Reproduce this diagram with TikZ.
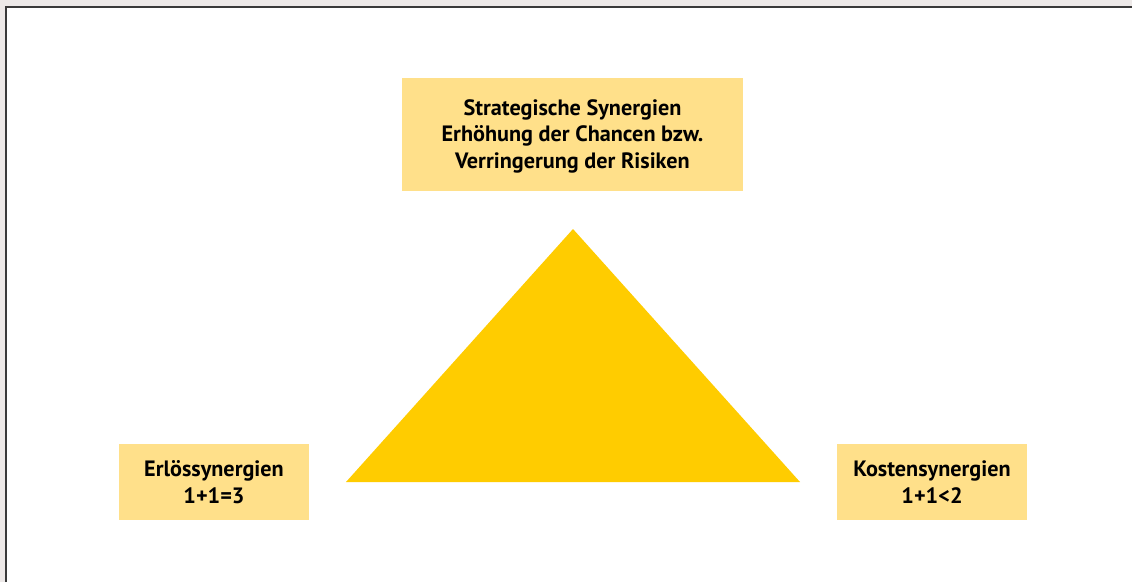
\documentclass[tikz,border=0pt]{standalone}
\usepackage{fontspec}
\setmainfont{PT Sans}
\definecolor{bggrey}{HTML}{EDE9E8}
\definecolor{framegrey}{HTML}{3A3A3A}
\definecolor{boxyellow}{HTML}{FFE08A}
\definecolor{triyellow}{HTML}{FFCC00}
\begin{document}
\begin{tikzpicture}[x=1pt,y=-1pt,
  box/.style={fill=boxyellow, draw=none, inner sep=0pt, align=center,
    font=\bfseries\fontsize{22.2}{26.5}\selectfont, text=black,
    text depth=0pt}]
\useasboundingbox (0,0) rectangle (1132,582);
\fill[bggrey] (0,0) rectangle (1132,582);
\fill[white] (7,8) rectangle (1132,582);
\draw[framegrey, line width=2.5] (6,582) -- (6,7) -- (1132,7);
\node[box, minimum width=341, minimum height=113] (top) at (572.5,134)
  {Strategische Synergien\\Erhöhung der Chancen bzw.\\Verringerung der Risiken};
\node[box, minimum width=190, minimum height=76] (left) at (214,482)
  {Erlössynergien\\1+1=3};
\node[box, minimum width=190, minimum height=76] (right) at (932,482)
  {Kostensynergien\\1+1<2};
\coordinate (apex) at (573,229);
\coordinate (bl) at (346,482);
\coordinate (br) at (800,482);
\fill[triyellow] (apex) -- (bl) -- (br) -- cycle;
\end{tikzpicture}
\end{document}
